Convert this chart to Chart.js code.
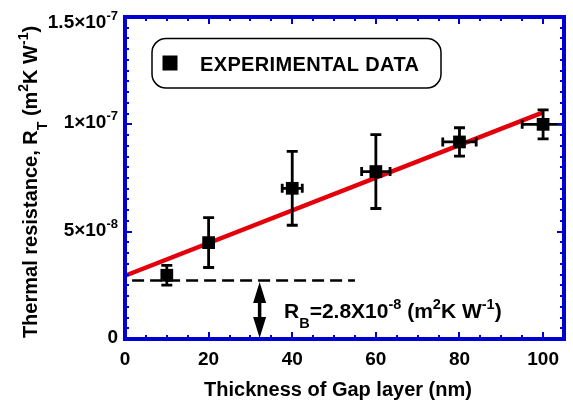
<!DOCTYPE html>
<html><head><meta charset="utf-8">
<script src="https://cdn.jsdelivr.net/npm/chart.js@4/dist/chart.umd.min.js"></script>
<style>html,body{margin:0;padding:0;background:#fff}#wrap{width:573px;height:402px;position:relative}</style>
</head><body><div id="wrap"><canvas id="c" width="573" height="402"></canvas></div>
<script>
// ---- data ----
const thickness = [10, 20, 40, 60, 80, 100];
const resistance = [2.97e-8, 4.49e-8, 7.02e-8, 7.8e-8, 9.18e-8, 1.0e-7];
const resistanceErr = [0.46e-8, 1.16e-8, 1.72e-8, 1.72e-8, 0.66e-8, 0.675e-8];
const thicknessErr = [0, 0, 2.4, 3.4, 4, 5];
const fitX = [0.3, 100];
const fitY = [2.97e-8, 1.056e-7];
const baseX = [1.7, 55];
const baseY = [2.72e-8, 2.72e-8];
const arrowX = 32.2;
const xTickValues = [0, 20, 40, 60, 80, 100];
const yTickValues = [0, 5e-8, 1e-7, 1.5e-7];
const yTickLabels = [[['0', '']], [['5×10', ''], ['-8', 'sup']], [['1×10', ''], ['-7', 'sup']], [['1.5×10', ''], ['-7', 'sup']]];
const legendLabel = 'EXPERIMENTAL DATA';
const xTitle = 'Thickness of Gap layer (nm)';
const yTitle = [['Thermal resistance, R', ''], ['T', 'sub'], [' (m', ''], ['2', 'sup'], ['K W', ''], ['-1', 'sup'], [')', '']];
const annotation = [['R', ''], ['B', 'sub'], ['=2.8X10', ''], ['-8', 'sup'], [' (m', ''], ['2', 'sup'], ['K W', ''], ['-1', 'sup'], [')', '']];

const FONT = '"Liberation Sans", Arial, Helvetica, sans-serif';
const BLUE = '#0000d2';
const RED = '#e3000b';
function font(sz) { return 'bold ' + sz + 'px ' + FONT; }
function richWidth(ctx, segs, size, small) {
  let w = 0;
  for (const [t, m] of segs) { ctx.font = font(m ? small : size); w += ctx.measureText(t).width; }
  return w;
}
function drawRich(ctx, segs, x, y, align, size, small) {
  const w = richWidth(ctx, segs, size, small);
  let cx = align === 'right' ? x - w : align === 'center' ? x - w / 2 : x;
  ctx.textAlign = 'left';
  ctx.textBaseline = 'alphabetic';
  for (const [t, m] of segs) {
    ctx.font = font(m ? small : size);
    let dy = 0;
    if (m === 'sup') dy = -0.42 * size;
    if (m === 'sub') dy = 0.5 * size;
    ctx.fillText(t, cx, y + dy);
    cx += ctx.measureText(t).width;
  }
}

const errorBars = {
  id: 'errorBars',
  beforeDatasetDraw(chart, args) {
    if (args.index !== 2) return;
    const ctx = chart.ctx, xs = chart.scales.x, ys = chart.scales.y, a = chart.chartArea;
    ctx.save();
    ctx.beginPath(); ctx.rect(a.left, a.top, a.right - a.left, a.bottom - a.top); ctx.clip();
    ctx.strokeStyle = '#000'; ctx.lineWidth = 2.8; ctx.lineCap = 'butt';
    thickness.forEach((t, i) => {
      const px = xs.getPixelForValue(t), py = ys.getPixelForValue(resistance[i]);
      const pt = ys.getPixelForValue(resistance[i] + resistanceErr[i]);
      const pb = ys.getPixelForValue(resistance[i] - resistanceErr[i]);
      ctx.beginPath();
      ctx.moveTo(px, pt); ctx.lineTo(px, pb);
      ctx.moveTo(px - 5.5, pt); ctx.lineTo(px + 5.5, pt);
      ctx.moveTo(px - 5.5, pb); ctx.lineTo(px + 5.5, pb);
      ctx.stroke();
      if (thicknessErr[i] > 0) {
        const pl = xs.getPixelForValue(t - thicknessErr[i]), pr = xs.getPixelForValue(t + thicknessErr[i]);
        ctx.beginPath();
        ctx.moveTo(pl, py); ctx.lineTo(pr, py);
        ctx.moveTo(pl, py - 4.5); ctx.lineTo(pl, py + 4.5);
        ctx.moveTo(pr, py - 4.5); ctx.lineTo(pr, py + 4.5);
        ctx.stroke();
      }
    });
    ctx.restore();
  }
};

const frame = {
  id: 'frame',
  afterDraw(chart) {
    const ctx = chart.ctx, xs = chart.scales.x, ys = chart.scales.y, a = chart.chartArea;
    ctx.save();
    // ticks
    ctx.strokeStyle = BLUE; ctx.lineWidth = 2;
    ctx.beginPath();
    for (let v = 5; v < xs.max; v += 5) {
      const p = Math.round(xs.getPixelForValue(v));
      const len = (v % 20 === 0) ? 7 : 4;
      ctx.moveTo(p, a.bottom); ctx.lineTo(p, a.bottom - len);
      ctx.moveTo(p, a.top); ctx.lineTo(p, a.top + len);
    }
    for (let k = 1; k < 30; k++) {
      const v = k * 5e-9;
      const p = Math.round(ys.getPixelForValue(v));
      const len = (k % 10 === 0) ? 7 : 4;
      ctx.moveTo(a.left, p); ctx.lineTo(a.left + len, p);
      ctx.moveTo(a.right, p); ctx.lineTo(a.right - len, p);
    }
    ctx.stroke();
    // border
    ctx.lineWidth = 4;
    ctx.strokeRect(a.left, a.top, a.right - a.left, a.bottom - a.top);

    ctx.fillStyle = '#000';
    // x tick labels
    ctx.font = font(19); ctx.textAlign = 'center'; ctx.textBaseline = 'alphabetic';
    xTickValues.forEach(v => ctx.fillText(String(v), xs.getPixelForValue(v), 365));
    // y tick labels
    yTickValues.forEach((v, i) => {
      const p = ys.getPixelForValue(v);
      const base = Math.min(Math.max(p + 4, 28), 347);
      drawRich(ctx, yTickLabels[i], 118, base, 'right', 19, 13);
    });
    // x title
    ctx.font = font(20); ctx.textAlign = 'center';
    ctx.fillText(xTitle, 338, 395.5);
    // y title
    ctx.save();
    ctx.translate(36.5, 182);
    ctx.rotate(-Math.PI / 2);
    drawRich(ctx, yTitle, 0, 0, 'center', 20, 14);
    ctx.restore();

    // legend
    ctx.lineWidth = 1.5; ctx.strokeStyle = '#000';
    ctx.beginPath(); ctx.roundRect(152, 38.5, 289, 49.5, 14); ctx.stroke();
    ctx.fillRect(162.5, 55.5, 15, 15);
    ctx.font = font(20); ctx.textAlign = 'left';
    ctx.letterSpacing = '0.35px';
    ctx.fillText(legendLabel, 200, 70.5);
    ctx.letterSpacing = '0px';

    // arrow
    const ax = xs.getPixelForValue(arrowX);
    const at = ys.getPixelForValue(baseY[0]) + 1.5, ab = ys.getPixelForValue(0) - 1;
    ctx.lineWidth = 3.5;
    ctx.beginPath(); ctx.moveTo(ax, at + 15); ctx.lineTo(ax, ab - 15); ctx.stroke();
    ctx.beginPath();
    ctx.moveTo(ax, at); ctx.lineTo(ax + 6.5, at + 21); ctx.lineTo(ax - 6.5, at + 21); ctx.closePath();
    ctx.moveTo(ax, ab); ctx.lineTo(ax + 6.5, ab - 21); ctx.lineTo(ax - 6.5, ab - 21); ctx.closePath();
    ctx.fill();

    // annotation
    drawRich(ctx, annotation, 284, 317.5, 'left', 21, 14.5);
    ctx.restore();
  }
};

new Chart(document.getElementById('c'), {
  type: 'scatter',
  data: {
    datasets: [
      { label: 'fit', data: fitX.map((x, i) => ({ x, y: fitY[i] })), showLine: true, pointRadius: 0,
        borderColor: RED, borderWidth: 4.5, order: 3 },
      { label: 'RB', data: baseX.map((x, i) => ({ x, y: baseY[i] })), showLine: true, pointRadius: 0,
        borderColor: '#000', borderWidth: 2.5, borderDash: [12, 6], order: 2 },
      { label: legendLabel, data: thickness.map((x, i) => ({ x, y: resistance[i] })), pointStyle: 'rect',
        pointRadius: 9, pointHoverRadius: 9, backgroundColor: '#000', borderColor: '#000', borderWidth: 0, order: 1 }
    ]
  },
  options: {
    responsive: false, animation: false, devicePixelRatio: 1,
    layout: { padding: { left: 125, right: 7, top: 17, bottom: 63 } },
    plugins: { legend: { display: false }, tooltip: { enabled: false } },
    scales: {
      x: { type: 'linear', min: 0, max: 105, display: false },
      y: { type: 'linear', min: 0, max: 1.5e-7, display: false }
    }
  },
  plugins: [errorBars, frame]
});
</script></body></html>
